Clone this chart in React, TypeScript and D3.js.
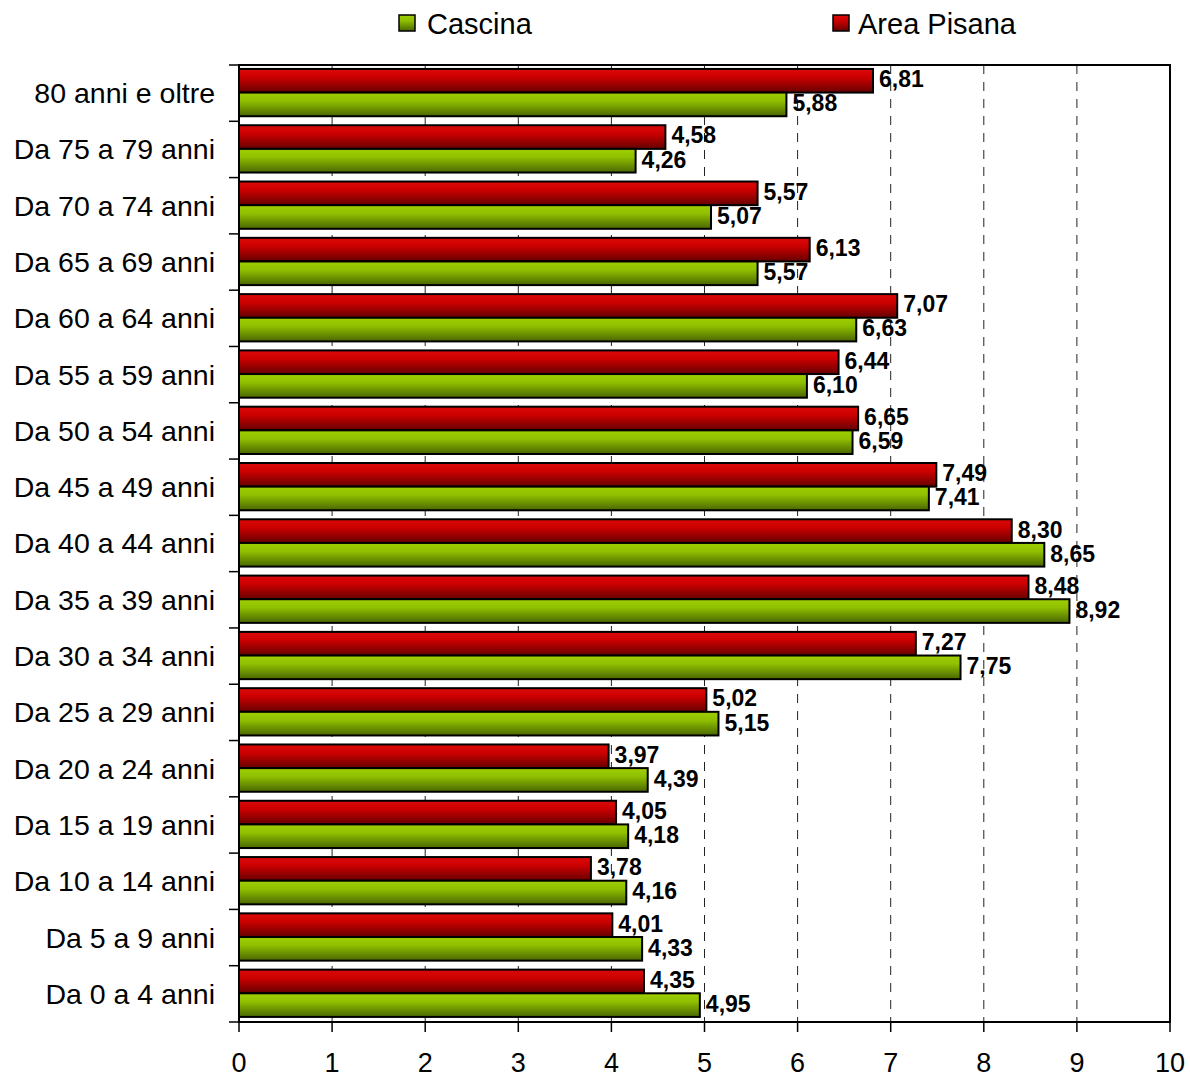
import React from "react";
import * as d3 from "d3";

const categories = [
  "80 anni e oltre", "Da 75 a 79 anni", "Da 70 a 74 anni", "Da 65 a 69 anni",
  "Da 60 a 64 anni", "Da 55 a 59 anni", "Da 50 a 54 anni", "Da 45 a 49 anni",
  "Da 40 a 44 anni", "Da 35 a 39 anni", "Da 30 a 34 anni", "Da 25 a 29 anni",
  "Da 20 a 24 anni", "Da 15 a 19 anni", "Da 10 a 14 anni", "Da 5 a 9 anni",
  "Da 0 a 4 anni",
];
const areaPisana = [6.81, 4.58, 5.57, 6.13, 7.07, 6.44, 6.65, 7.49, 8.30, 8.48, 7.27, 5.02, 3.97, 4.05, 3.78, 4.01, 4.35];
const cascina = [5.88, 4.26, 5.07, 5.57, 6.63, 6.10, 6.59, 7.41, 8.65, 8.92, 7.75, 5.15, 4.39, 4.18, 4.16, 4.33, 4.95];
const xTicks = [0, 1, 2, 3, 4, 5, 6, 7, 8, 9, 10];
const seriesNames = ["Cascina", "Area Pisana"];

const W = 1190, H = 1079;
const left = 239, right = 1170, top = 65, bottom = 1022;
const font = "Arial, 'Liberation Sans', sans-serif";

export default function App() {
  const x = d3.scaleLinear().domain([0, 10]).range([left, right]);
  const y = d3.scaleBand<string>().domain(categories).range([top, bottom]).padding(0);
  const step = y.bandwidth();
  const off = step * 0.07;
  const bh = step * 0.42;
  const fmt = (v: number) => v.toFixed(2).replace(".", ",");

  return (
    <svg width={W} height={H} style={{ position: "absolute", left: 0, top: 0, background: "#fff" }}>
      <defs>
        <linearGradient id="gRed" x1="0" y1="0" x2="0" y2="1">
          <stop offset="0" stopColor="#dc0a0a" />
          <stop offset="0.35" stopColor="#cc0000" />
          <stop offset="1" stopColor="#660000" />
        </linearGradient>
        <linearGradient id="gGreen" x1="0" y1="0" x2="0" y2="1">
          <stop offset="0" stopColor="#9fcf00" />
          <stop offset="0.35" stopColor="#90c000" />
          <stop offset="1" stopColor="#4a6600" />
        </linearGradient>
      </defs>
      {/* gridlines */}
      {xTicks.slice(1, -1).map((t) => (
        <line key={"g" + t} x1={x(t)} x2={x(t)} y1={top} y2={bottom} stroke="#222" strokeWidth={1} strokeDasharray="9,8" />
      ))}
      {/* bars */}
      {categories.map((c, i) => {
        const y0 = (y(c) as number) + off;
        return (
          <g key={c}>
            <rect x={x(0)} y={y0} width={x(areaPisana[i]) - x(0)} height={bh} fill="url(#gRed)" stroke="#000" strokeWidth={2} />
            <rect x={x(0)} y={y0 + bh} width={x(cascina[i]) - x(0)} height={bh} fill="url(#gGreen)" stroke="#000" strokeWidth={2} />
            <text x={x(areaPisana[i]) + 6} y={y0 + bh / 2} dy="0.28em" fontFamily={font} fontWeight="bold" fontSize={23}>{fmt(areaPisana[i])}</text>
            <text x={x(cascina[i]) + 6} y={y0 + bh * 1.5} dy="0.3em" fontFamily={font} fontWeight="bold" fontSize={23}>{fmt(cascina[i])}</text>
            <text x={215} y={(y(c) as number) + step / 2} dy="0.35em" textAnchor="end" fontFamily={font} fontSize={28.5}>{c}</text>
          </g>
        );
      })}
      {/* frame */}
      <rect x={left} y={top} width={right - left} height={bottom - top} fill="none" stroke="#000" strokeWidth={2} />
      {/* y ticks */}
      {[...categories.map((c) => y(c) as number), bottom].map((v, i) => (
        <line key={"yt" + i} x1={left - 10} x2={left} y1={v} y2={v} stroke="#000" strokeWidth={1.5} />
      ))}
      {/* x ticks */}
      {xTicks.map((t) => (
        <g key={"xt" + t}>
          <line x1={x(t)} x2={x(t)} y1={bottom} y2={bottom + 10} stroke="#000" strokeWidth={1.5} />
          <text x={x(t)} y={1072} textAnchor="middle" fontFamily={font} fontSize={27}>{t}</text>
        </g>
      ))}
      {/* legend */}
      <g>
        <rect x={399} y={15} width={16} height={16} fill="url(#gGreen)" stroke="#000" strokeWidth={1.5} />
        <text x={427} y={34} fontFamily={font} fontSize={29}>{seriesNames[0]}</text>
        <rect x={833} y={15} width={16} height={16} fill="url(#gRed)" stroke="#000" strokeWidth={1.5} />
        <text x={858} y={34} fontFamily={font} fontSize={29}>{seriesNames[1]}</text>
      </g>
    </svg>
  );
}
